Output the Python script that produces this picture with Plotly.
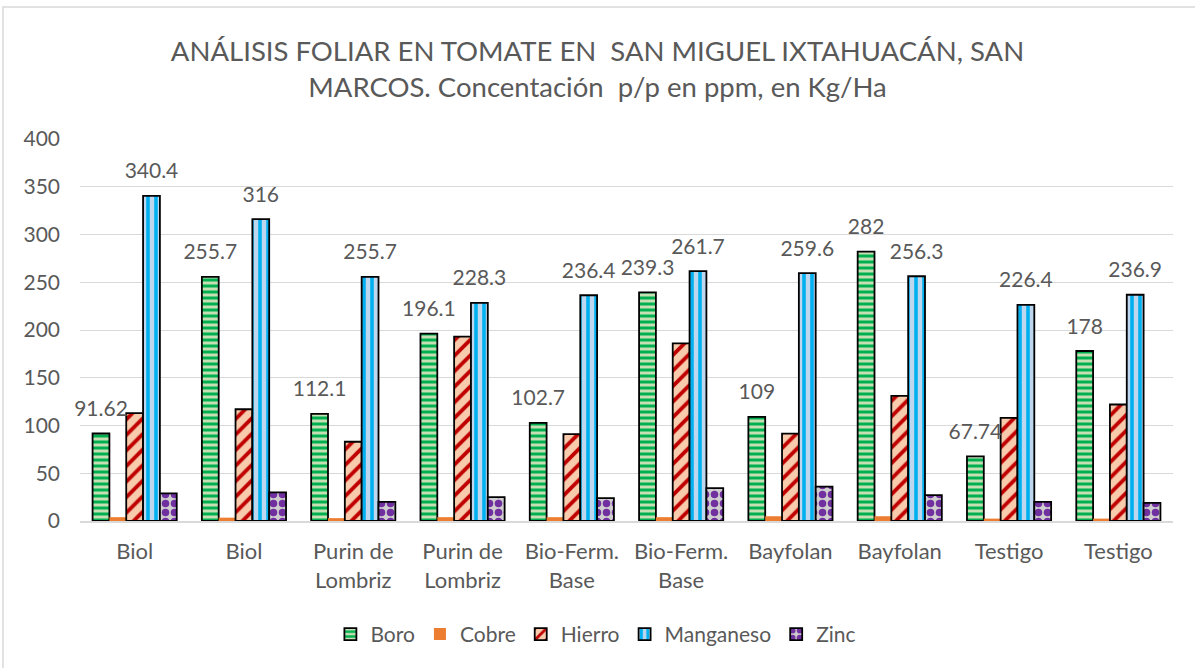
import plotly.graph_objects as go

categories = ["Biol", "Biol", "Purin de<br>Lombriz", "Purin de<br>Lombriz",
              "Bio-Ferm.<br>Base", "Bio-Ferm.<br>Base", "Bayfolan", "Bayfolan",
              "Testigo", "Testigo"]
x_idx = list(range(len(categories)))

boro = [91.62, 255.7, 112.1, 196.1, 102.7, 239.3, 109, 282, 67.74, 178]
cobre = [4, 3.5, 3, 4, 4, 4, 5, 5, 2.5, 2.5]
hierro = [113, 117, 83, 193, 91, 186, 91.5, 131, 108, 122]
manganeso = [340.4, 316, 255.7, 228.3, 236.4, 261.7, 259.6, 256.3, 226.4, 236.9]
zinc = [29, 30, 20, 25, 24, 34.5, 36, 27, 20, 19]

y_ticks = [0, 50, 100, 150, 200, 250, 300, 350, 400]

FONT = "Lato"
GREY = "#595959"
GAP = 0.23
outline = dict(color="#000000", width=1.8)
label_font = dict(family=FONT, size=21, color=GREY)

series = [
    ("Boro", boro, dict(color="#C6E0B4", line=outline,
                        pattern=dict(shape="-", fgcolor="#00B050", bgcolor="#C6E0B4",
                                     size=6, solidity=0.5, fillmode="replace")), True),
    ("Cobre", cobre, dict(color="#ED7D31", line=dict(width=0)), False),
    ("Hierro", hierro, dict(color="#F8CBAD", line=outline,
                            pattern=dict(shape="/", fgcolor="#C00000", bgcolor="#F8CBAD",
                                         size=11, solidity=0.35, fillmode="replace")), False),
    ("Manganeso", manganeso, dict(color="#BDD7EE", line=outline,
                                  pattern=dict(shape="|", fgcolor="#00B0F0", bgcolor="#BDD7EE",
                                               size=8, solidity=0.45, fillmode="replace")), True),
    ("Zinc", zinc, dict(color="#D0CECE", line=outline,
                        pattern=dict(shape=".", fgcolor="#7030A0", bgcolor="#D0CECE",
                                     size=9, solidity=0.55, fillmode="replace")), False),
]

fig = go.Figure()

# grouped bars
for name, vals, marker, _ in series:
    fig.add_trace(go.Bar(name=name, x=x_idx, y=vals, marker=marker,
                         offsetgroup=name))

# value labels: one text trace per series so the slots line up with the bars
for name, vals, _, labelled in series:
    fig.add_trace(go.Scatter(
        x=x_idx, y=vals, mode="markers+text", offsetgroup=name,
        text=[f"{v:g}" for v in vals] if labelled else [""] * len(vals),
        textposition="top center", textfont=label_font,
        marker=dict(size=18, opacity=0), showlegend=False, hoverinfo="skip",
        cliponaxis=False,
    ))

fig.update_layout(
    width=1195, height=668,
    margin=dict(l=80, r=22, t=139, b=147),
    paper_bgcolor="#FFFFFF", plot_bgcolor="#FFFFFF",
    barmode="group", bargap=GAP, bargroupgap=0,
    scattermode="group", scattergap=GAP,
    font=dict(family=FONT, color=GREY, size=21),
    title=dict(
        text="ANÁLISIS FOLIAR EN TOMATE EN  SAN MIGUEL IXTAHUACÁN, SAN<br>MARCOS. Concentación  p/p en ppm, en Kg/Ha",
        x=0.5, xanchor="center", y=1 - 61 / 668, yanchor="middle",
        font=dict(family=FONT, size=27.5, color=GREY),
    ),
    xaxis=dict(
        tickmode="array", tickvals=x_idx, ticktext=categories,
        range=[-0.5, len(categories) - 0.5],
        showline=True, linecolor="#D9D9D9", linewidth=1.5,
        showgrid=False, ticks="", tickfont=dict(family=FONT, size=22, color=GREY),
        ticklabelstandoff=10,
    ),
    yaxis=dict(
        range=[0, 400], tickvals=y_ticks, showgrid=True, gridcolor="#D9D9D9",
        gridwidth=1, zeroline=False, showline=False, ticks="",
        tickfont=dict(family=FONT, size=21, color=GREY), ticklabelstandoff=19,
    ),
    legend=dict(
        orientation="h", x=0.472, xanchor="center", y=-0.297, yanchor="middle",
        font=dict(family=FONT, size=21, color=GREY), itemwidth=30,
        traceorder="normal",
    ),
    showlegend=True,
    shapes=[
        dict(type="rect", xref="paper", yref="paper",
             x0=-77 / 1093, x1=1.05, y0=-1.5, y1=1 + 132 / 382,
             line=dict(color="#D9D9D9", width=1.5), fillcolor="rgba(0,0,0,0)",
             layer="below"),
    ],
)

fig.write_html("out.html")
